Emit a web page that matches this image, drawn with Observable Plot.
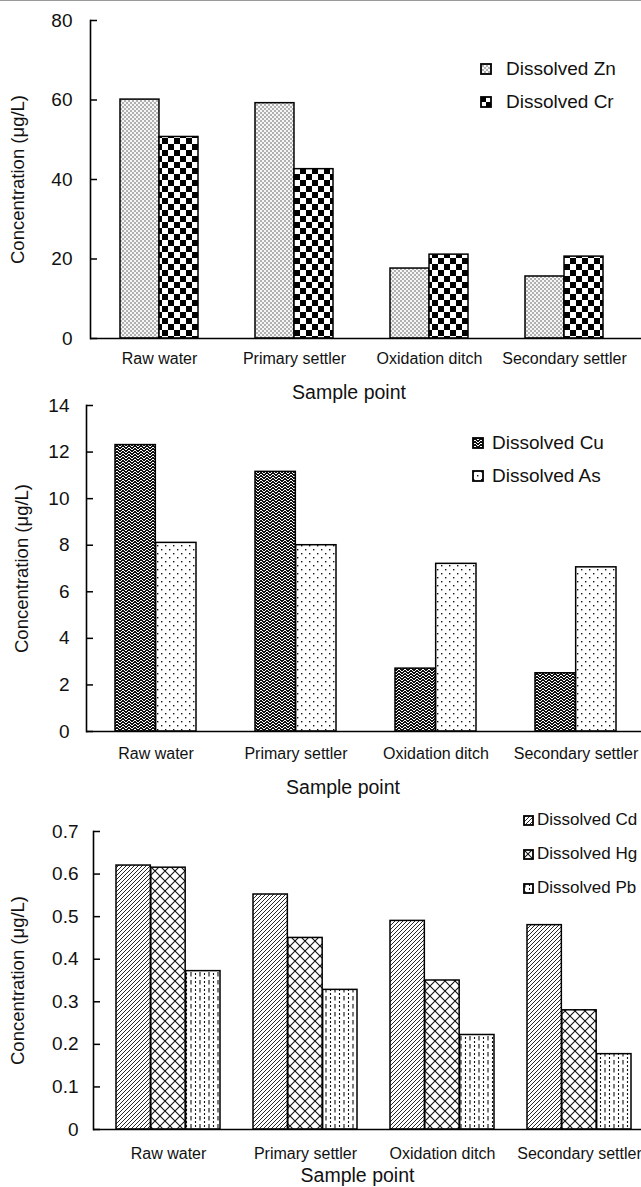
<!DOCTYPE html>
<html><head><meta charset="utf-8">
<script src="https://cdn.jsdelivr.net/npm/d3@7"></script>
<script src="https://cdn.jsdelivr.net/npm/@observablehq/plot@0.6"></script>
<style>
body{margin:0;background:#fff;font-family:"Liberation Sans",Arial,sans-serif;}
#wrap{position:relative;width:641px;height:1187px;overflow:hidden;background:#fff;}
#topline{position:absolute;left:0;top:0;width:641px;height:1px;background:#9a9a9a;}
.panel{position:absolute;left:0;}
.legend{position:absolute;color:#111;font-size:19px;}
.legend .row{position:absolute;left:0;display:flex;align-items:center;white-space:nowrap;transform:translateY(-50%);}
.legend svg{display:block;}
</style></head>
<body>
<svg width="0" height="0" style="position:absolute">
<defs>
<pattern id="pZn" patternUnits="userSpaceOnUse" width="4" height="4">
<rect width="4" height="4" fill="#f7f7f7"/><rect x="0.4" y="0.4" width="1.2" height="1.2" fill="#333"/><rect x="2.4" y="2.4" width="1.2" height="1.2" fill="#333"/></pattern>
<pattern id="pCr" patternUnits="userSpaceOnUse" width="12" height="12">
<rect width="12" height="12" fill="#fff"/><rect width="6" height="6" fill="#000"/><rect x="6" y="6" width="6" height="6" fill="#000"/></pattern>
<pattern id="pCu" patternUnits="userSpaceOnUse" width="6" height="6">
<rect width="6" height="6" fill="#111"/><path d="M0,3 L3,0 L6,3 M0,6 L3,3 L6,6" stroke="#fff" stroke-width="1" fill="none"/></pattern>
<pattern id="pAs" patternUnits="userSpaceOnUse" width="8" height="8">
<rect width="8" height="8" fill="#fff"/><rect x="1" y="1" width="1.4" height="1.4" fill="#111"/><rect x="5" y="5" width="1.4" height="1.4" fill="#111"/></pattern>
<pattern id="pCd" patternUnits="userSpaceOnUse" width="4" height="4">
<rect width="4" height="4" fill="#fff"/><path d="M0,4 L4,0 M-1,1 L1,-1 M3,5 L5,3" stroke="#111" stroke-width="0.9"/></pattern>
<pattern id="pHg" patternUnits="userSpaceOnUse" width="10" height="10">
<rect width="10" height="10" fill="#fff"/><path d="M0,0 L10,10 M10,0 L0,10" stroke="#111" stroke-width="1.1"/></pattern>
<pattern id="pPb" patternUnits="userSpaceOnUse" width="9" height="8">
<rect width="9" height="8" fill="#fff"/><path d="M2,0 V4.5 M6.5,1 V3 M6.5,5 V7" stroke="#111" stroke-width="1.1"/></pattern>
</defs>
</svg>
<div id="wrap"><div id="topline"></div></div>
<script>
// ---- data ----
const categories = ["Raw water", "Primary settler", "Oxidation ditch", "Secondary settler"];
const dissolvedZn = [60.1, 59.2, 17.6, 15.6];
const dissolvedCr = [50.7, 42.6, 21.1, 20.6];
const dissolvedCu = [12.3, 11.15, 2.7, 2.5];
const dissolvedAs = [8.1, 8.0, 7.2, 7.05];
const dissolvedCd = [0.62, 0.552, 0.49, 0.48];
const dissolvedHg = [0.615, 0.45, 0.35, 0.28];
const dissolvedPb = [0.372, 0.328, 0.222, 0.177];
const ticks1 = [0, 20, 40, 60, 80];
const ticks2 = [0, 2, 4, 6, 8, 10, 12, 14];
const ticks3 = [0, 0.1, 0.2, 0.3, 0.4, 0.5, 0.6, 0.7];
const xTitle = "Sample point";
const yTitle = "Concentration (μg/L)";

const W = 641;
const FONT = "'Liberation Sans', Arial, sans-serif";
const wrap = document.getElementById("wrap");

function panel(cfg) {
  const {top, height, marginTop, marginBottom, marginLeft, xRange, pad, ticks, series,
         yTickPadding, xTickPadding, fmt, titleDy, titleDx, ylabelDx, legend} = cfg;
  const n = series.length;
  const step = (xRange[1] - xRange[0]) / categories.length;
  const bw = step * (1 - pad);
  const sub = bw / n;
  const frameW = W - marginLeft;
  const marks = [];
  series.forEach((s, i) => {
    const rows = categories.map((c, j) => ({cat: c, v: s.values[j]}));
    marks.push(Plot.barY(rows, {x: "cat", y: "v", fill: `url(#${s.pattern})`, stroke: "#000", strokeWidth: 1.5,
      insetLeft: i * sub, insetRight: (n - 1 - i) * sub}));
  });
  marks.push(Plot.ruleY([0], {stroke: "#000", strokeWidth: 1.6}));
  marks.push(Plot.frame({anchor: "left", stroke: "#000", strokeWidth: 1.6}));
  marks.push(Plot.tickY(ticks, {y: d => d, insetRight: frameW - 7, stroke: "#000", strokeWidth: 1.5}));
  marks.push(Plot.axisY({ticks, tickSize: 0, tickPadding: yTickPadding, fontSize: 19, label: null, tickFormat: fmt}));
  marks.push(Plot.axisX({tickSize: 0, tickPadding: xTickPadding, fontSize: 16, label: null}));
  marks.push(Plot.text([xTitle], {frameAnchor: "bottom", lineAnchor: "middle", textAnchor: "middle", dy: titleDy, dx: titleDx, fontSize: 19.5, fill: "#111"}));
  marks.push(Plot.text([yTitle], {frameAnchor: "left", textAnchor: "middle", lineAnchor: "middle", rotate: -90, dx: ylabelDx, fontSize: 18.5, fill: "#111"}));
  const chart = Plot.plot({
    width: W, height, marginTop, marginBottom, marginLeft, marginRight: 0,
    style: {fontFamily: FONT, background: "transparent", color: "#111", overflow: "visible"},
    x: {type: "band", domain: categories, range: xRange, paddingInner: pad, paddingOuter: pad / 2},
    y: {domain: [ticks[0], ticks[ticks.length - 1]]},
    marks
  });
  const holder = document.createElement("div");
  holder.className = "panel";
  holder.style.top = top + "px";
  holder.appendChild(chart);
  wrap.appendChild(holder);

  const lg = document.createElement("div");
  lg.className = "legend";
  lg.style.left = legend.left + "px";
  lg.style.top = legend.top + "px";
  lg.style.fontSize = legend.fontSize + "px";
  series.forEach((s, i) => {
    const row = document.createElement("div");
    row.className = "row";
    row.style.top = (i * legend.gap) + "px";
    row.innerHTML = `<svg width="${legend.sw + 2}" height="${legend.sw + 2}"><rect x="1" y="1" width="${legend.sw}" height="${legend.sw}" fill="url(#${s.pattern})" stroke="#000" stroke-width="1.8"/></svg><span style="margin-left:${legend.gapText}px">${s.name}</span>`;
    lg.appendChild(row);
  });
  wrap.appendChild(lg);
}

panel({
  top: 0, height: 396, marginTop: 20, marginBottom: 58, marginLeft: 90,
  xRange: [90, 632], pad: 0.424, ticks: ticks1, fmt: d => String(d),
  yTickPadding: 18, xTickPadding: 14, titleDy: 54, titleDx: -17, ylabelDx: -72,
  series: [{name: "Dissolved Zn", values: dissolvedZn, pattern: "pZn"},
           {name: "Dissolved Cr", values: dissolvedCr, pattern: "pCr"}],
  legend: {left: 480, top: 69, gap: 33, sw: 10, gapText: 14, fontSize: 19}
});
panel({
  top: 396, height: 400, marginTop: 9, marginBottom: 65, marginLeft: 86,
  xRange: [85, 646], pad: 0.42, ticks: ticks2, fmt: d => String(d),
  yTickPadding: 17, xTickPadding: 16, titleDy: 56, titleDx: -21, ylabelDx: -64,
  series: [{name: "Dissolved Cu", values: dissolvedCu, pattern: "pCu"},
           {name: "Dissolved As", values: dissolvedAs, pattern: "pAs"}],
  legend: {left: 472, top: 443, gap: 33, sw: 10, gapText: 8, fontSize: 19}
});
panel({
  top: 796, height: 391, marginTop: 35, marginBottom: 58, marginLeft: 93,
  xRange: [99, 649], pad: 0.24, ticks: ticks3, fmt: d => String(d),
  yTickPadding: 15, xTickPadding: 18, titleDy: 46, titleDx: -10, ylabelDx: -75,
  series: [{name: "Dissolved Cd", values: dissolvedCd, pattern: "pCd"},
           {name: "Dissolved Hg", values: dissolvedHg, pattern: "pHg"},
           {name: "Dissolved Pb", values: dissolvedPb, pattern: "pPb"}],
  legend: {left: 523, top: 820, gap: 34, sw: 9, gapText: 3, fontSize: 17}
});
</script>
</body></html>
